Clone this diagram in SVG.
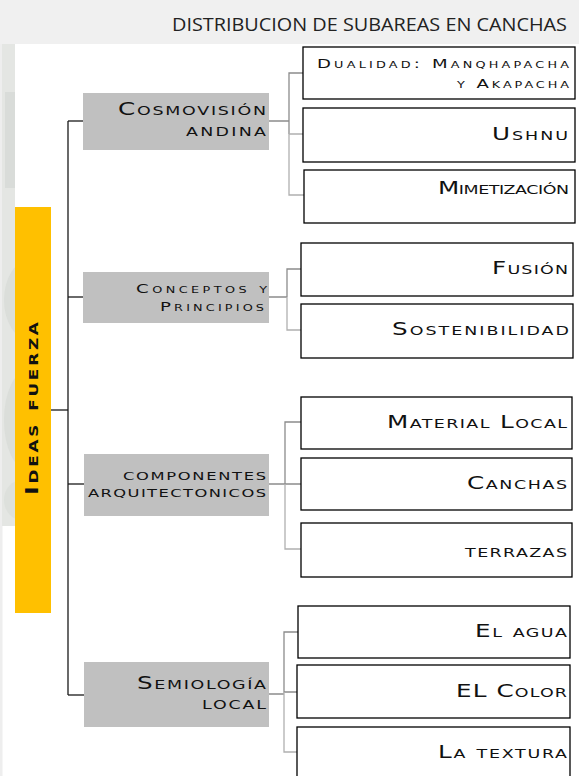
<svg xmlns="http://www.w3.org/2000/svg" width="579" height="776" viewBox="0 0 579 776">
<style>
.lbl{font-family:"DejaVu Sans","Liberation Sans",sans-serif;font-variant:small-caps;fill:#111;text-anchor:end}
.gbox{fill:#c0c0c0}
.wbox{fill:#fff;stroke:#000;stroke-width:1.3}
.trunk{stroke:#1a1a1a;stroke-width:1.3;fill:none}
.sub{stroke:#8c8c8c;stroke-width:1.3;fill:none}
.sub2{stroke:#b0b0b0;stroke-width:1.3;fill:none}
</style>
<defs>
<clipPath id="strip"><rect x="2" y="44" width="13" height="482"/></clipPath>
</defs>
<rect width="579" height="776" fill="#fff"/>
<g id="header">
<rect x="0" y="0" width="579" height="44" fill="#f0f0f0"/>
<text x="567" y="31" font-family="'Open Sans','DejaVu Sans',sans-serif" font-size="18" fill="#222" text-anchor="end" textLength="395" lengthAdjust="spacingAndGlyphs">DISTRIBUCION DE SUBAREAS EN CANCHAS</text>
</g>
<g id="sidestrip">
<rect x="0" y="44" width="2.5" height="732" fill="#eeeeee"/>
<rect x="2" y="44" width="13" height="482" fill="#e4e6e3"/>
<g clip-path="url(#strip)" fill="#d2d6d2">
<rect x="5" y="92" width="10" height="96" opacity="0.6"/>
<ellipse cx="30" cy="300" rx="26" ry="40" opacity="0.5"/>
<ellipse cx="28" cy="420" rx="24" ry="50" opacity="0.5"/>
<ellipse cx="22" cy="500" rx="18" ry="20" opacity="0.4"/>
</g>
</g>
<g id="connectors">
<line class="trunk" x1="51" y1="410" x2="68" y2="410"/>
<line class="trunk" x1="68" y1="121" x2="68" y2="695"/>
<line class="trunk" x1="68" y1="121" x2="83" y2="121"/>
<line class="trunk" x1="68" y1="297" x2="83" y2="297"/>
<line class="trunk" x1="68" y1="484" x2="84" y2="484"/>
<line class="trunk" x1="68" y1="695" x2="84" y2="695"/>
<path class="sub" d="M269 121H289M303 73H289V134"/>
<path class="sub2" d="M289 134V195H304M289 134H303"/>
<path class="sub" d="M269 297H287M301 269H287V297"/>
<path class="sub2" d="M287 297V330H301"/>
<path class="sub" d="M269 484H285M301 422H285V484H301"/>
<path class="sub2" d="M285 484V549H301"/>
<path class="sub" d="M269 694H284M298 632H284V692H297"/>
<path class="sub2" d="M284 692V752H297"/>
</g>
<g id="ideas-fuerza">
<rect x="15" y="207" width="36" height="406" fill="#ffc000"/>
<text transform="translate(38,495) rotate(-90) scale(1.3,1)" font-family="'DejaVu Sans','Liberation Sans',sans-serif" font-weight="bold" font-variant="small-caps" font-size="18" fill="#111" textLength="133" lengthAdjust="spacing">Ideas fuerza</text>
</g>
<g id="cosmovision">
<rect class="gbox" x="83" y="93" width="186" height="57"/>
<text class="lbl" transform="translate(266,115) scale(1.45,1)" font-size="17" textLength="102" lengthAdjust="spacing">Cosmovisión</text>
<text class="lbl" transform="translate(266,136) scale(1.45,1)" font-size="17" textLength="55.2" lengthAdjust="spacing">andina</text>
</g>
<g id="conceptos">
<rect class="gbox" x="83" y="272" width="186" height="51"/>
<text class="lbl" transform="translate(267,293) scale(1.45,1)" font-size="12.5" textLength="90.3" lengthAdjust="spacing">Conceptos y</text>
<text class="lbl" transform="translate(264,311) scale(1.45,1)" font-size="12.5" textLength="71.7" lengthAdjust="spacing">Principios</text>
</g>
<g id="componentes">
<rect class="gbox" x="84" y="454" width="185" height="62"/>
<text class="lbl" transform="translate(266,480) scale(1.45,1)" font-size="16" textLength="98.6" lengthAdjust="spacing">componentes</text>
<text class="lbl" transform="translate(266,497) scale(1.45,1)" font-size="16" textLength="122.8" lengthAdjust="spacing">arquitectonicos</text>
</g>
<g id="semiologia">
<rect class="gbox" x="84" y="662" width="185" height="65"/>
<text class="lbl" transform="translate(266,689) scale(1.45,1)" font-size="17" textLength="89" lengthAdjust="spacing">Semiología</text>
<text class="lbl" transform="translate(266,709) scale(1.45,1)" font-size="17" textLength="44.1" lengthAdjust="spacing">local</text>
</g>
<g id="dualidad">
<rect class="wbox" x="303" y="47" width="272" height="52"/>
<text class="lbl" transform="translate(569,68) scale(1.45,1)" font-size="12.5" textLength="173.8" lengthAdjust="spacing">Dualidad: Manqhapacha</text>
<text class="lbl" transform="translate(569,88) scale(1.45,1)" font-size="12.5" textLength="77.2" lengthAdjust="spacing">y Akapacha</text>
</g>
<g id="ushnu">
<rect class="wbox" x="303" y="108" width="272" height="54"/>
<text class="lbl" transform="translate(568,140) scale(1.45,1)" font-size="17" textLength="52.4" lengthAdjust="spacing">Ushnu</text>
</g>
<g id="mimetizacion">
<rect class="wbox" x="304" y="170" width="271" height="53"/>
<text class="lbl" transform="translate(569,194) scale(1.45,1)" font-size="17" textLength="90.3" lengthAdjust="spacing">Mimetización</text>
</g>
<g id="fusion">
<rect class="wbox" x="301" y="243" width="272" height="53"/>
<text class="lbl" transform="translate(568,274) scale(1.45,1)" font-size="17" textLength="52.4" lengthAdjust="spacing">Fusión</text>
</g>
<g id="sostenibilidad">
<rect class="wbox" x="301" y="304" width="272" height="54"/>
<text class="lbl" transform="translate(569,335) scale(1.45,1)" font-size="17" textLength="122" lengthAdjust="spacing">Sostenibilidad</text>
</g>
<g id="material-local">
<rect class="wbox" x="301" y="397" width="271" height="52"/>
<text class="lbl" transform="translate(567,428) scale(1.45,1)" font-size="17" textLength="124.1" lengthAdjust="spacing">Material Local</text>
</g>
<g id="canchas">
<rect class="wbox" x="301" y="458" width="271" height="52"/>
<text class="lbl" transform="translate(567,489) scale(1.45,1)" font-size="17" textLength="69" lengthAdjust="spacing">Canchas</text>
</g>
<g id="terrazas">
<rect class="wbox" x="301" y="523" width="271" height="54"/>
<text class="lbl" transform="translate(567,557) scale(1.45,1)" font-size="17" textLength="70.3" lengthAdjust="spacing">terrazas</text>
</g>
<g id="el-agua">
<rect class="wbox" x="298" y="606" width="272" height="52"/>
<text class="lbl" transform="translate(567,637) scale(1.45,1)" font-size="17" textLength="63.4" lengthAdjust="spacing">El agua</text>
</g>
<g id="el-color">
<rect class="wbox" x="297" y="665" width="273" height="53"/>
<text class="lbl" transform="translate(567,697) scale(1.45,1)" font-size="17" textLength="76.6" lengthAdjust="spacing">EL Color</text>
</g>
<g id="la-textura">
<rect class="wbox" x="297" y="727" width="273" height="52"/>
<text class="lbl" transform="translate(567,758) scale(1.45,1)" font-size="17" textLength="89" lengthAdjust="spacing">La textura</text>
</g>
</svg>
